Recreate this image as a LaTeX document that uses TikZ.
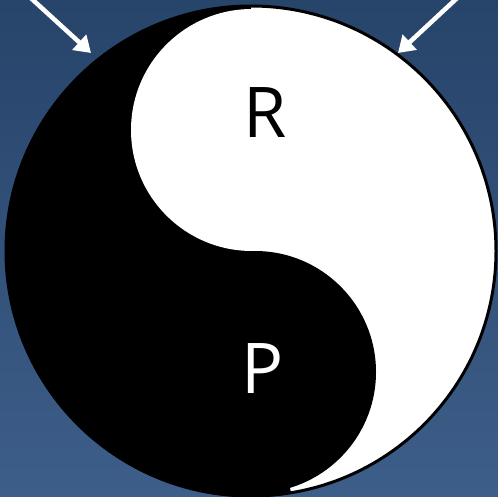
\documentclass[tikz,border=0pt]{standalone}
\usepackage{fontspec}
\setmainfont{Open Sans}
\usepackage{xcolor}
\usetikzlibrary{arrows.meta}
\definecolor{bgtop}{RGB}{39,68,106}
\definecolor{bgbottom}{RGB}{61,94,137}

\begin{document}
\begin{tikzpicture}[
    x=1pt, y=-1pt,
    letter/.style={inner sep=0pt, font=\fontsize{70}{70}\selectfont, text=#1},
    arr/.style={-{Triangle[length=16pt, width=20pt]}, line width=4.5pt, white},
    >=Stealth
]
\useasboundingbox (0,0) rectangle (498,497);
\clip (0,0) rectangle (498,497);

% Background
\shade[top color=bgtop, bottom color=bgbottom] (0,0) rectangle (498,497);

% Centres of the big and small circles
\coordinate (O) at (251,251);
\coordinate (Oup) at (252,130);
\coordinate (Olow) at (255,372);

% Yin-yang
\fill[black] (O) circle (246);
\begin{scope}
    \clip (O) circle (246);
    \fill[white] (251,0) -- (500,0) -- (500,500) -- (292,500) -- (254,251) -- cycle;
\end{scope}
\fill[white] (Oup) circle (121);
\fill[black] (Olow) circle (121);
\draw[black, line width=3pt] (O) circle (245);

% Labels
\node[letter=black] (r) at (265,113) {R};
\node[letter=white] (p) at (263,369) {P};

% Arrows
\coordinate (a1s) at (27.5,-5);
\coordinate (a1e) at (91,53);
\coordinate (a2s) at (460.4,-5);
\coordinate (a2e) at (398,53);
\foreach \from/\to in {a1s/a1e, a2s/a2e} {
    \draw[arr] (\from) -- (\to);
}

\end{tikzpicture}
\end{document}
